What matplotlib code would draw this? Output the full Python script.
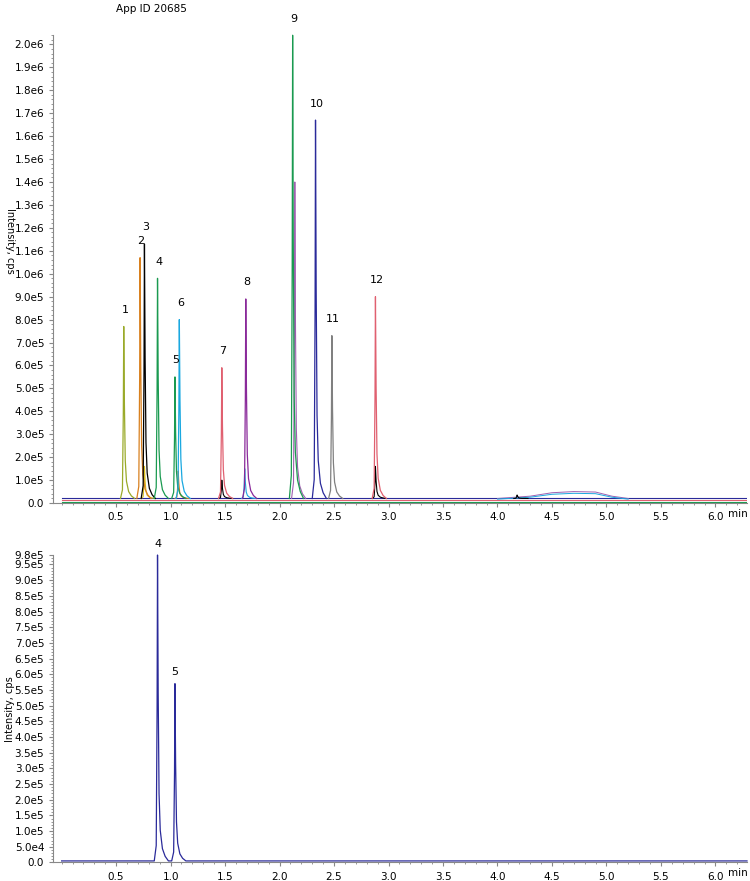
import numpy as np
import matplotlib.pyplot as plt
from matplotlib.ticker import MultipleLocator, FuncFormatter

# peak table for the top XIC overlay: retention time (min), height (cps), colour
peak_rt = [0.57, 0.72, 0.76, 0.88, 1.04, 1.08, 1.47, 1.69, 2.12, 2.33, 2.48, 2.88]
peak_h = [7.7e5, 1.07e6, 1.13e6, 9.8e5, 5.5e5, 8.0e5, 5.9e5, 8.9e5, 2.04e6, 1.67e6, 7.3e5, 9.0e5]
peak_col = ["#9aaa2a", "#d8801e", "#000000", "#1a9a50", "#1a9a50", "#1aa8e0",
            "#e06070", "#8a2a9a", "#1a9a50", "#2a2a9a", "#808080", "#e06070"]
peak_lbl = [str(i) for i in range(1, 13)]

# smaller co-eluting traces
minor_rt = [0.76, 1.07, 1.47, 1.68, 2.14, 2.88, 4.18]
minor_h = [1.6e5, 1.4e5, 1.0e5, 1.5e5, 1.4e6, 1.6e5, 3.5e4]
minor_col = ["#d8c020", "#d8801e", "#000000", "#1aa8e0", "#a060b0", "#000000", "#000000"]

# peak shape: offset (min) and fraction of the apex
shape_dx = [-0.03, -0.012, -0.004, 0.0, 0.006, 0.014, 0.025, 0.045, 0.07, 0.1]
shape_f = [0.0, 0.05, 0.5, 1.0, 0.55, 0.22, 0.1, 0.04, 0.015, 0.0]

baseline_top = 2.0e4
hump_x = [4.0, 4.3, 4.5, 4.7, 4.9, 5.05, 5.2]
hump_y = [2.0e4, 3.0e4, 4.5e4, 5.0e4, 4.8e4, 3.0e4, 2.0e4]

# lower panel: single trace
low_rt = [0.88, 1.04]
low_h = [9.8e5, 5.7e5]
low_lbl = ["4", "5"]
low_base = 5.0e3

fig = plt.figure(figsize=(7.5, 8.81), dpi=100)
ax1 = fig.add_axes([0.071, 0.429, 0.925, 0.531])
ax2 = fig.add_axes([0.071, 0.021, 0.925, 0.349])

def peak_trace(rt, h, base):
    x = [rt + d for d in shape_dx]
    y = [base + f * (h - base) for f in shape_f]
    return x, y

XMAX = 6.29

# top panel
ax1.plot([0, XMAX], [baseline_top, baseline_top], color="#2a2a9a", lw=0.8)
ax1.plot([0, XMAX], [baseline_top * 0.6, baseline_top * 0.6], color="#e06070", lw=0.8)
ax1.plot([0, XMAX], [baseline_top * 0.3, baseline_top * 0.3], color="#1a9a50", lw=0.8)
ax1.plot(hump_x, hump_y, color="#a060b0", lw=0.7)
ax1.plot(hump_x, [v * 0.85 for v in hump_y], color="#1aa8e0", lw=0.7)
for rt, h, c in zip(minor_rt, minor_h, minor_col):
    x, y = peak_trace(rt, h, baseline_top)
    ax1.plot(x, y, color=c, lw=0.8)
for rt, h, c, lb in zip(peak_rt, peak_h, peak_col, peak_lbl):
    x, y = peak_trace(rt, h, baseline_top)
    ax1.plot(x, y, color=c, lw=0.9, clip_on=False)
    ax1.text(rt + 0.01, h + 5e4, lb, ha="center", va="bottom", fontsize=8)

# bottom panel
low_x = [0.0, 0.83]
low_y = [low_base, low_base]
for rt, h in zip(low_rt, low_h):
    x, y = peak_trace(rt, h, low_base)
    low_x += x
    low_y += y
low_x += [XMAX]
low_y += [low_base]
order = np.argsort(low_x)
ax2.plot(np.array(low_x)[order], np.array(low_y)[order], color="#2a2a9a", lw=0.9,
         clip_on=False)
for rt, h, lb in zip(low_rt, low_h, low_lbl):
    ax2.text(rt, h + 2e4, lb, ha="center", va="bottom", fontsize=8)

def sci(v, pos):
    if v <= 0:
        return "0.0"
    e = int(np.floor(np.log10(v)))
    return f"{v / 10**e:.1f}e{e}"

for ax, top, yt, mstep, rot in [(ax1, 2.04e6, np.arange(0, 2.01e6, 1e5), 2e4, -90),
                                (ax2, 9.8e5, list(np.arange(0, 9.51e5, 5e4)) + [9.8e5], 1e4, 90)]:
    ax.set_xlim(-0.077, XMAX)
    ax.set_ylim(0, top)
    ax.xaxis.set_minor_locator(MultipleLocator(0.1))
    ax.set_yticks(yt)
    ax.yaxis.set_minor_locator(MultipleLocator(mstep))
    ax.yaxis.set_major_formatter(FuncFormatter(sci))
    ax.set_xticks(np.arange(0.5, 6.01, 0.5))
    ax.tick_params(labelsize=7.5, length=3, color="#888888")
    ax.tick_params(which="minor", length=1.5, color="#888888")
    for s in ["top", "right"]:
        ax.spines[s].set_visible(False)
    for s in ["left", "bottom"]:
        ax.spines[s].set_color("#888888")
    ax.set_ylabel("Intensity, cps", fontsize=7, rotation=rot, va="center")
    ax.yaxis.set_label_coords(-0.062, 0.5)
    ax.text(6.12, -0.012 if ax is ax1 else -0.018, "min", fontsize=7.5, va="top",
            ha="left", transform=ax.get_xaxis_transform(), clip_on=False)

ax1.yaxis.set_label_coords(-0.062, 0.56)
fig.text(0.155, 0.995, "App ID 20685", fontsize=7.5, va="top")

fig.savefig("out.png", dpi=100)
